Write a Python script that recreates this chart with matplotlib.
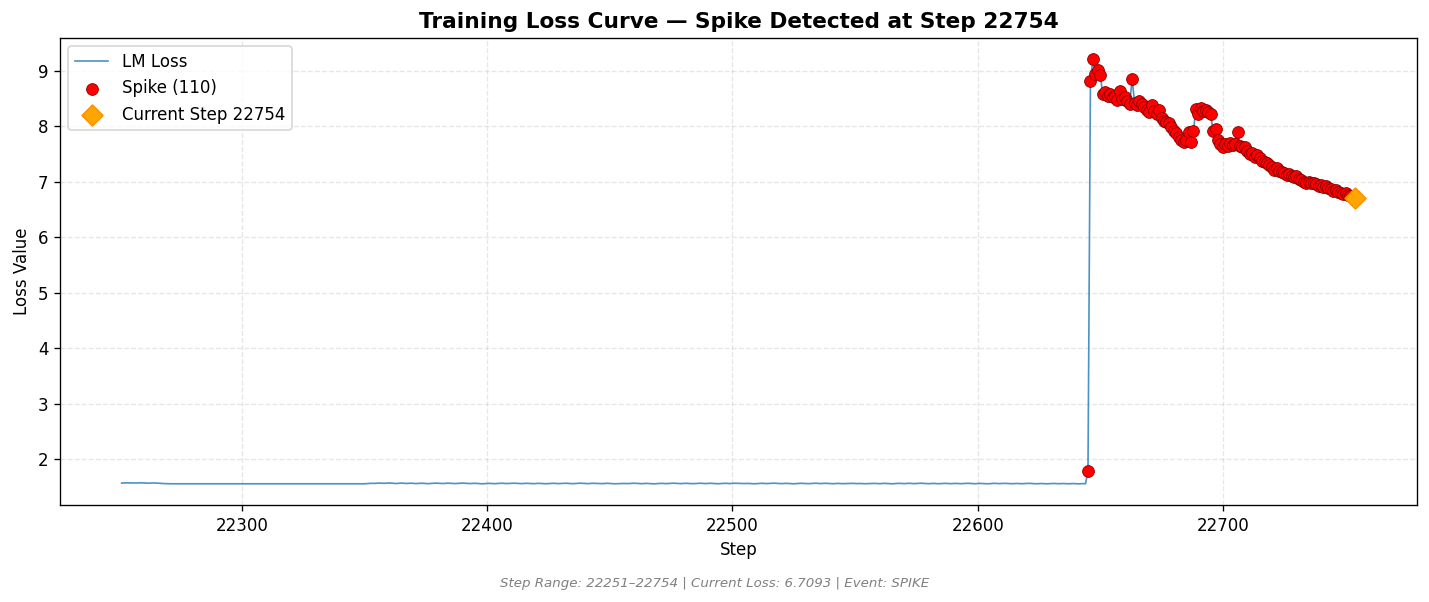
import numpy as np
import matplotlib
matplotlib.use("Agg")
import matplotlib.pyplot as plt

# steps covered by the log window
step_start = 22251
step_end = 22754

# loss before the spike (22251-22644)
base_loss = [
    1.566, 1.568, 1.570, 1.569, 1.567, 1.565, 1.567, 1.570, 1.571, 1.569, 1.566, 1.564, 1.566, 1.568, 1.567, 1.564, 1.560, 1.557, 1.555, 1.554,
    1.553, 1.553, 1.553, 1.553, 1.553, 1.553, 1.553, 1.553, 1.553, 1.553, 1.553, 1.553, 1.553, 1.553, 1.553, 1.553, 1.553, 1.553, 1.553, 1.553,
    1.553, 1.553, 1.553, 1.553, 1.553, 1.553, 1.553, 1.553, 1.553, 1.553, 1.553, 1.553, 1.553, 1.553, 1.553, 1.553, 1.553, 1.553, 1.553, 1.553,
    1.553, 1.553, 1.553, 1.553, 1.553, 1.553, 1.553, 1.553, 1.553, 1.553, 1.553, 1.553, 1.553, 1.553, 1.553, 1.553, 1.553, 1.553, 1.553, 1.553,
    1.553, 1.553, 1.553, 1.553, 1.553, 1.553, 1.553, 1.553, 1.553, 1.553, 1.553, 1.553, 1.553, 1.553, 1.553, 1.553, 1.553, 1.553, 1.553, 1.553,
    1.556, 1.559, 1.562, 1.560, 1.563, 1.566, 1.564, 1.561, 1.565, 1.568, 1.565, 1.561, 1.558, 1.562, 1.566, 1.563, 1.559, 1.561, 1.564, 1.560,
    1.557, 1.560, 1.563, 1.561, 1.558, 1.556, 1.559, 1.562, 1.565, 1.563, 1.560, 1.558, 1.561, 1.564, 1.562, 1.559, 1.557, 1.560, 1.563, 1.566,
    1.563, 1.560, 1.557, 1.559, 1.562, 1.560, 1.556, 1.553, 1.556, 1.559, 1.561, 1.558, 1.555, 1.558, 1.561, 1.563, 1.560, 1.557, 1.559, 1.562,
    1.564, 1.561, 1.558, 1.556, 1.559, 1.562, 1.560, 1.557, 1.555, 1.558, 1.561, 1.559, 1.556, 1.554, 1.557, 1.560, 1.562, 1.559, 1.556, 1.558,
    1.561, 1.563, 1.560, 1.557, 1.555, 1.558, 1.561, 1.564, 1.561, 1.558, 1.556, 1.559, 1.562, 1.560, 1.557, 1.554, 1.556, 1.559, 1.562, 1.559,
    1.556, 1.553, 1.555, 1.558, 1.561, 1.559, 1.556, 1.558, 1.561, 1.563, 1.560, 1.557, 1.555, 1.558, 1.560, 1.557, 1.554, 1.552, 1.555, 1.558,
    1.561, 1.559, 1.556, 1.559, 1.562, 1.564, 1.561, 1.558, 1.556, 1.559, 1.562, 1.560, 1.557, 1.555, 1.558, 1.561, 1.563, 1.560, 1.557, 1.559,
    1.562, 1.559, 1.556, 1.554, 1.557, 1.560, 1.562, 1.559, 1.557, 1.560, 1.563, 1.561, 1.558, 1.555, 1.557, 1.560, 1.558, 1.555, 1.553, 1.556,
    1.559, 1.562, 1.560, 1.557, 1.559, 1.562, 1.564, 1.561, 1.558, 1.556, 1.559, 1.561, 1.558, 1.555, 1.553, 1.556, 1.559, 1.562, 1.560, 1.557,
    1.555, 1.558, 1.561, 1.563, 1.560, 1.557, 1.559, 1.562, 1.559, 1.556, 1.554, 1.557, 1.560, 1.558, 1.555, 1.557, 1.560, 1.563, 1.561, 1.558,
    1.556, 1.559, 1.557, 1.554, 1.556, 1.559, 1.562, 1.560, 1.557, 1.555, 1.558, 1.561, 1.559, 1.556, 1.553, 1.556, 1.559, 1.561, 1.558, 1.556,
    1.559, 1.562, 1.559, 1.556, 1.558, 1.561, 1.563, 1.560, 1.557, 1.555, 1.558, 1.560, 1.557, 1.554, 1.556, 1.559, 1.561, 1.558, 1.555, 1.557,
    1.560, 1.558, 1.555, 1.557, 1.560, 1.562, 1.559, 1.556, 1.554, 1.557, 1.560, 1.558, 1.555, 1.553, 1.556, 1.559, 1.561, 1.558, 1.556, 1.558,
    1.561, 1.559, 1.556, 1.554, 1.557, 1.559, 1.557, 1.554, 1.556, 1.559, 1.561, 1.558, 1.555, 1.553, 1.556, 1.558, 1.556, 1.553, 1.555, 1.557,
    1.559, 1.556, 1.554, 1.556, 1.558, 1.555, 1.553, 1.555, 1.557, 1.555, 1.552, 1.554, 1.556, 1.554,
]

# loss from the spike onward (22645-22754), all flagged as spike
spike_loss = [
    1.79, 8.82, 9.21, 8.95, 9.02, 8.93, 8.58, 8.62, 8.55, 8.58,
    8.52, 8.55, 8.47, 8.64, 8.50, 8.52, 8.45, 8.40, 8.86, 8.42,
    8.38, 8.45, 8.40, 8.35, 8.30, 8.25, 8.38, 8.28, 8.22, 8.30,
    8.15, 8.10, 8.08, 8.05, 7.98, 7.92, 7.88, 7.80, 7.75, 7.72,
    7.75, 7.90, 7.72, 7.92, 8.32, 8.22, 8.33, 8.28, 8.30, 8.25,
    8.22, 7.92, 7.95, 7.75, 7.68, 7.62, 7.68, 7.65, 7.70, 7.66,
    7.68, 7.90, 7.65, 7.62, 7.62, 7.55, 7.50, 7.52, 7.45, 7.48,
    7.42, 7.38, 7.35, 7.33, 7.30, 7.26, 7.22, 7.24, 7.20, 7.18,
    7.15, 7.12, 7.14, 7.10, 7.08, 7.10, 7.05, 7.03, 7.00, 6.98,
    7.00, 6.97, 6.98, 6.95, 6.92, 6.94, 6.90, 6.92, 6.88, 6.86,
    6.84, 6.85, 6.82, 6.80, 6.78, 6.79, 6.76, 6.75, 6.73, 6.7093,
]

event = "SPIKE"

steps = np.arange(step_start, step_end + 1)
loss = np.array(base_loss + spike_loss)
assert len(steps) == len(loss)

spike_steps = steps[len(base_loss):]
spike_vals = np.array(spike_loss)
cur_step = steps[-1]
cur_loss = loss[-1]

fig, ax = plt.subplots(figsize=(1429 / 120, 602 / 120), dpi=120)
fig.subplots_adjust(left=0.042, right=0.9916, top=0.937, bottom=0.161)

ax.plot(steps, loss, color="#1f77b4", lw=1.0, alpha=0.8, label="LM Loss", zorder=2)
ax.scatter(spike_steps, spike_vals, s=50, color="red", edgecolors="darkred",
           linewidths=0.5, label=f"Spike ({len(spike_vals)})", zorder=3)
ax.scatter([cur_step], [cur_loss], s=80, marker="D", color="orange",
           edgecolors="darkorange", linewidths=0.8,
           label=f"Current Step {cur_step}", zorder=4)

ax.set_title(f"Training Loss Curve \u2014 Spike Detected at Step {cur_step}",
             fontsize=13, fontweight="bold")
ax.set_xlabel("Step")
ax.set_ylabel("Loss Value")
ax.grid(True, linestyle="--", alpha=0.3)
ax.legend(loc="upper left")

fig.text(0.5, 0.025,
         f"Step Range: {step_start}\u2013{step_end} | Current Loss: {cur_loss:.4f} | Event: {event}",
         ha="center", fontsize=8, color="gray", style="italic")

fig.savefig("out.png", dpi=120)
